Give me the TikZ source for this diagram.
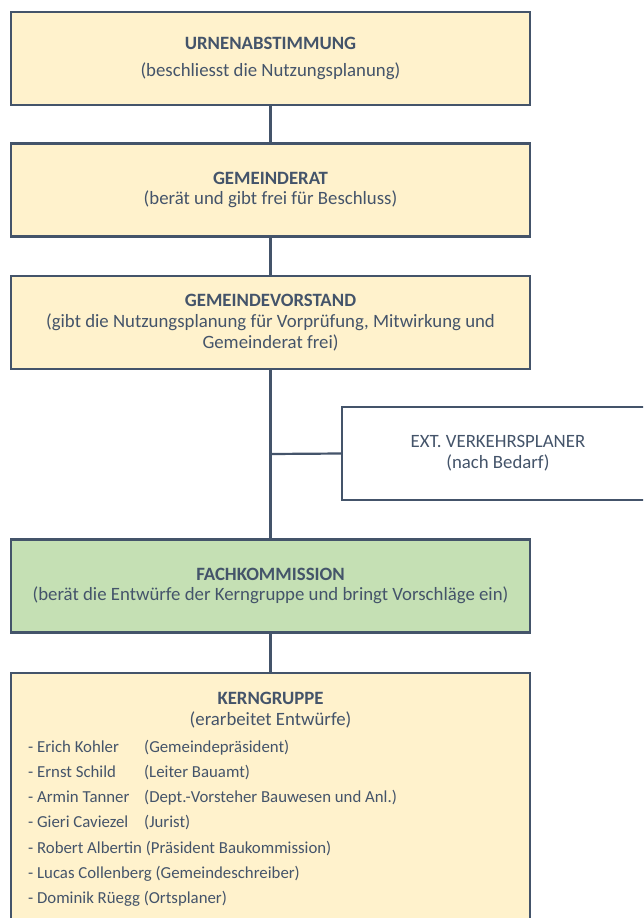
\documentclass[tikz,border=0pt]{standalone}
\usepackage{fontspec}
\setmainfont{Carlito}
\definecolor{slate}{HTML}{44546A}
\definecolor{ylw}{HTML}{FFF2CC}
\definecolor{grn}{HTML}{C5E0B4}
\begin{document}
\begin{tikzpicture}[x=1pt,y=-1pt,
  box/.style={draw=slate, line width=2.2pt, fill=ylw, minimum width=519pt, inner sep=0pt, text=slate, align=center, font=\fontsize{18.8}{20.8}\selectfont},
  gbox/.style={box, fill=grn},
  wbox/.style={box, fill=white, minimum width=312pt},
  conn/.style={draw=slate, line width=2.2pt},
  item/.style={anchor=west, inner sep=0pt, text=slate, font=\fontsize{16.8}{20}\selectfont}
]
\clip (0,0) rectangle (643,918);
\fill[white] (0,0) rectangle (643,918);
\node[box, minimum height=93pt] (urne) at (270.5,58.5) {\textbf{URNENABSTIMMUNG}\\[7pt](beschliesst die Nutzungsplanung)};
\node[box, minimum height=93pt] (rat) at (270.5,190) {\textbf{GEMEINDERAT}\\(berät und gibt frei für Beschluss)};
\node[box, minimum height=93pt] (vorst) at (270.5,322.5) {\textbf{GEMEINDEVORSTAND}\\(gibt die Nutzungsplanung für Vorprüfung, Mitwirkung und\\Gemeinderat frei)};
\node[wbox, minimum height=93pt] (ext) at (498,453.5) {EXT. VERKEHRSPLANER\\(nach Bedarf)};
\node[gbox, minimum height=93pt] (fach) at (270.5,586) {\textbf{FACHKOMMISSION}\\(berät die Entwürfe der Kerngruppe und bringt Vorschläge ein)};
\node[box, minimum height=260pt, anchor=north] (kern) at (270.5,671.5) {};
\node[text=slate, align=center, font=\fontsize{18.8}{21.5}\selectfont, anchor=center] (kt) at (270.5,710) {\textbf{KERNGRUPPE}\\(erarbeitet Entwürfe)};
\node[item] (k1) at (28,747.5) {\makebox[116pt][l]{- Erich Kohler}(Gemeindepräsident)};
\node[item] (k2) at (28,772.5) {\makebox[116pt][l]{- Ernst Schild}(Leiter Bauamt)};
\node[item] (k3) at (28,798) {\makebox[116pt][l]{- Armin Tanner}(Dept.-Vorsteher Bauwesen und Anl.)};
\node[item] (k4) at (28,823) {\makebox[116pt][l]{- Gieri Caviezel}(Jurist)};
\node[item] (k5) at (28,848.5) {- Robert Albertin (Präsident Baukommission)};
\node[item] (k6) at (28,874) {- Lucas Collenberg (Gemeindeschreiber)};
\node[item] (k7) at (28,899) {- Dominik Rüegg (Ortsplaner)};
\coordinate (br) at (270.5,454);
\draw[conn] (urne.south) -- (rat.north);
\draw[conn] (rat.south) -- (vorst.north);
\draw[conn] (vorst.south) -- (fach.north);
\draw[conn] (br) -- (ext.west);
\draw[conn] (fach.south) -- (kern.north);
\end{tikzpicture}
\end{document}
